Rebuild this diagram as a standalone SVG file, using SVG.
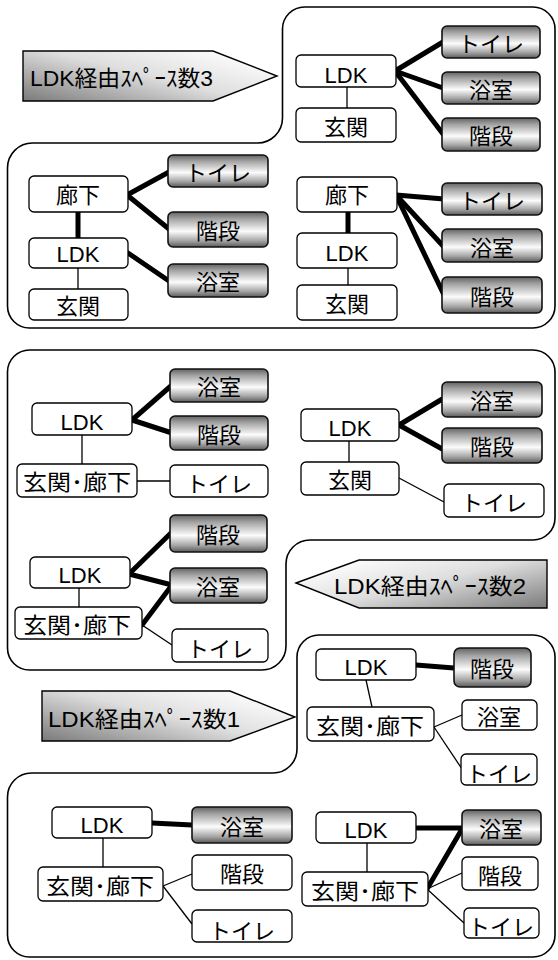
<svg xmlns="http://www.w3.org/2000/svg" width="558" height="960" viewBox="0 0 558 960">
<defs>
<linearGradient id="gbox" x1="0" y1="0" x2="0" y2="1">
<stop offset="0" stop-color="#626262"/>
<stop offset="0.2" stop-color="#a4a4a4"/>
<stop offset="0.55" stop-color="#fcfcfc"/>
<stop offset="0.82" stop-color="#a6a6a6"/>
<stop offset="1" stop-color="#5a5a5a"/>
</linearGradient>
<linearGradient id="garR" x1="0" y1="1" x2="1" y2="0.2">
<stop offset="0" stop-color="#7a7a7a"/>
<stop offset="0.55" stop-color="#dedede"/>
<stop offset="1" stop-color="#ffffff"/>
</linearGradient>
<linearGradient id="garL" x1="1" y1="1" x2="0" y2="0.2">
<stop offset="0" stop-color="#7a7a7a"/>
<stop offset="0.55" stop-color="#dedede"/>
<stop offset="1" stop-color="#ffffff"/>
</linearGradient>
<style>
.frame{fill:#fff;stroke:#000;stroke-width:1.6}
.w{fill:#fff;stroke:#000;stroke-width:1.3}
.g{fill:url(#gbox);stroke:#111;stroke-width:1.6}
.thick{stroke:#000;stroke-width:5;stroke-linecap:round;fill:none}
.thin{stroke:#000;stroke-width:1.3;fill:none}
.arrow{stroke:#000;stroke-width:1.4}
text{font-family:"Liberation Sans","Noto Sans CJK JP",sans-serif;font-size:22px;fill:#000;text-anchor:middle}
.al{font-size:22px;text-anchor:start}
</style>
</defs>
<rect width="558" height="960" fill="#fff"/>

<g id="frames">
<path class="frame" d="M305,7 H533 A22,22 0 0 1 555,29 V306 A22,22 0 0 1 533,328 H30 A22,22 0 0 1 7.5,306 V168 A25,25 0 0 1 33,143 H257 A25,25 0 0 0 282.5,118 V29 A22,22 0 0 1 305,7 Z"/>
<path class="frame" d="M30,350 H533 A22,22 0 0 1 555,372 V518 A22,22 0 0 1 533,540 H310 A24,24 0 0 0 286,564 V646 A24,24 0 0 1 262,670 H30 A22,22 0 0 1 7.5,648 V372 A22,22 0 0 1 30,350 Z"/>
<path class="frame" d="M319,635 H533 A22,22 0 0 1 555,657 V935 A22,22 0 0 1 533,957 H30 A22,22 0 0 1 7.5,935 V797 A24,24 0 0 1 31.5,773 H273 A24,24 0 0 0 297,749 V657 A22,22 0 0 1 319,635 Z"/>
</g>

<g id="arrow3">
<polygon class="arrow" fill="url(#garR)" points="23,51 213,51 277,76 213,101 23,101"/>
<text class="al" x="30" y="86" textLength="183" lengthAdjust="spacingAndGlyphs">LDK経由ｽﾍﾟｰｽ数3</text>
</g>
<g id="arrow2">
<polygon class="arrow" fill="url(#garL)" points="296,583 359,560 547,560 547,608 359,608"/>
<text class="al" x="334" y="594" textLength="192" lengthAdjust="spacingAndGlyphs">LDK経由ｽﾍﾟｰｽ数2</text>
</g>
<g id="arrow1">
<polygon class="arrow" fill="url(#garR)" points="42,691 230,691 295,717 230,741 42,741"/>
<text class="al" x="48" y="727" textLength="192" lengthAdjust="spacingAndGlyphs">LDK経由ｽﾍﾟｰｽ数1</text>
</g>

<g id="connectors">
<line class="thin" x1="347" y1="87" x2="347" y2="108"/>
<line class="thick" x1="395" y1="71" x2="443" y2="42"/>
<line class="thick" x1="395" y1="71" x2="443" y2="88"/>
<line class="thick" x1="395" y1="71" x2="443" y2="134"/>
<line class="thick" x1="78" y1="212" x2="78" y2="238"/>
<line class="thin" x1="78" y1="268" x2="78" y2="289"/>
<line class="thick" x1="127" y1="195" x2="169" y2="172"/>
<line class="thick" x1="127" y1="195" x2="169" y2="229"/>
<line class="thick" x1="128" y1="253" x2="169" y2="281"/>
<line class="thick" x1="348" y1="212" x2="348" y2="233"/>
<line class="thin" x1="348" y1="268" x2="348" y2="285"/>
<line class="thick" x1="396" y1="195" x2="444" y2="199"/>
<line class="thick" x1="396" y1="195" x2="444" y2="247"/>
<line class="thick" x1="396" y1="195" x2="444" y2="295"/>
<line class="thin" x1="82" y1="435" x2="82" y2="464"/>
<line class="thin" x1="137" y1="481" x2="170" y2="481"/>
<line class="thick" x1="132" y1="420" x2="172" y2="385"/>
<line class="thick" x1="132" y1="420" x2="172" y2="433"/>
<line class="thin" x1="349" y1="441" x2="349" y2="462"/>
<line class="thin" x1="399" y1="478" x2="444" y2="502"/>
<line class="thick" x1="399" y1="425" x2="444" y2="398"/>
<line class="thick" x1="399" y1="425" x2="444" y2="450"/>
<line class="thin" x1="79" y1="588" x2="79" y2="607"/>
<line class="thick" x1="129" y1="574" x2="172" y2="532"/>
<line class="thick" x1="129" y1="574" x2="172" y2="585"/>
<line class="thick" x1="142" y1="625" x2="172" y2="585"/>
<line class="thin" x1="142" y1="625" x2="172" y2="645"/>
<line class="thick" x1="416" y1="665" x2="454" y2="668"/>
<line class="thin" x1="366" y1="680" x2="372" y2="707"/>
<line class="thin" x1="434" y1="727" x2="462" y2="715"/>
<line class="thin" x1="434" y1="727" x2="462" y2="769"/>
<line class="thick" x1="152" y1="823" x2="192" y2="825"/>
<line class="thin" x1="103" y1="838" x2="103" y2="867"/>
<line class="thin" x1="163" y1="886" x2="192" y2="874"/>
<line class="thin" x1="163" y1="886" x2="192" y2="924"/>
<line class="thick" x1="416" y1="828" x2="462" y2="828"/>
<line class="thick" x1="427" y1="889" x2="462" y2="829"/>
<line class="thin" x1="367" y1="843" x2="367" y2="872"/>
<line class="thin" x1="427" y1="889" x2="462" y2="873"/>
<line class="thin" x1="427" y1="889" x2="464" y2="923"/>
</g>

<g id="A-LDK"><rect class="w" x="296" y="55" width="100" height="32" rx="5"/><text x="346" y="83">LDK</text></g>
<g id="A-genkan"><rect class="w" x="296" y="108" width="100" height="34" rx="5"/><text x="346" y="135">玄関</text></g>
<g id="A-toilet"><rect class="g" x="442" y="26" width="98" height="32" rx="5"/><text x="491" y="52">トイレ</text></g>
<g id="A-bath"><rect class="g" x="442" y="72" width="98" height="32" rx="5"/><text x="491" y="98">浴室</text></g>
<g id="A-stairs"><rect class="g" x="442" y="118" width="98" height="33" rx="5"/><text x="491" y="144">階段</text></g>

<g id="B-rouka"><rect class="w" x="29" y="176" width="99" height="36" rx="5"/><text x="78" y="203">廊下</text></g>
<g id="B-LDK"><rect class="w" x="29" y="238" width="99" height="30" rx="5"/><text x="78" y="262">LDK</text></g>
<g id="B-genkan"><rect class="w" x="29" y="289" width="99" height="31" rx="5"/><text x="78" y="314">玄関</text></g>
<g id="B-toilet"><rect class="g" x="168" y="155" width="100" height="32" rx="5"/><text x="218" y="181">トイレ</text></g>
<g id="B-stairs"><rect class="g" x="168" y="212" width="100" height="35" rx="5"/><text x="218" y="239">階段</text></g>
<g id="B-bath"><rect class="g" x="168" y="264" width="100" height="33" rx="5"/><text x="218" y="290">浴室</text></g>

<g id="C-rouka"><rect class="w" x="297" y="177" width="100" height="35" rx="5"/><text x="347" y="203">廊下</text></g>
<g id="C-LDK"><rect class="w" x="297" y="233" width="100" height="35" rx="5"/><text x="347" y="261">LDK</text></g>
<g id="C-genkan"><rect class="w" x="297" y="285" width="100" height="35" rx="5"/><text x="347" y="312">玄関</text></g>
<g id="C-toilet"><rect class="g" x="442" y="183" width="100" height="32" rx="5"/><text x="492" y="209">トイレ</text></g>
<g id="C-bath"><rect class="g" x="442" y="229" width="100" height="33" rx="5"/><text x="492" y="256">浴室</text></g>
<g id="C-stairs"><rect class="g" x="442" y="277" width="100" height="36" rx="5"/><text x="492" y="305">階段</text></g>

<g id="D-LDK"><rect class="w" x="32" y="403" width="100" height="32" rx="5"/><text x="82" y="430">LDK</text></g>
<g id="D-genkanrouka"><rect class="w" x="17" y="464" width="120" height="33" rx="5"/><text x="77" y="490" textLength="108" lengthAdjust="spacingAndGlyphs">玄関･廊下</text></g>
<g id="D-toilet"><rect class="w" x="170" y="465" width="98" height="32" rx="5"/><text x="219" y="492">トイレ</text></g>
<g id="D-bath"><rect class="g" x="170" y="369" width="98" height="33" rx="5"/><text x="219" y="395">浴室</text></g>
<g id="D-stairs"><rect class="g" x="170" y="416" width="98" height="34" rx="5"/><text x="219" y="443">階段</text></g>

<g id="E-LDK"><rect class="w" x="301" y="409" width="98" height="32" rx="5"/><text x="350" y="436">LDK</text></g>
<g id="E-genkan"><rect class="w" x="301" y="462" width="98" height="33" rx="5"/><text x="350" y="488">玄関</text></g>
<g id="E-bath"><rect class="g" x="442" y="382" width="100" height="35" rx="5"/><text x="492" y="409">浴室</text></g>
<g id="E-stairs"><rect class="g" x="442" y="428" width="100" height="35" rx="5"/><text x="492" y="455">階段</text></g>
<g id="E-toilet"><rect class="w" x="444" y="484" width="100" height="33" rx="5"/><text x="494" y="511">トイレ</text></g>

<g id="F-LDK"><rect class="w" x="30" y="557" width="100" height="31" rx="5"/><text x="80" y="583">LDK</text></g>
<g id="F-genkanrouka"><rect class="w" x="15" y="607" width="127" height="32" rx="5"/><text x="77" y="633" textLength="108" lengthAdjust="spacingAndGlyphs">玄関･廊下</text></g>
<g id="F-stairs"><rect class="g" x="170" y="515" width="97" height="37" rx="5"/><text x="218" y="543">階段</text></g>
<g id="F-bath"><rect class="g" x="170" y="568" width="97" height="35" rx="5"/><text x="218" y="595">浴室</text></g>
<g id="F-toilet"><rect class="w" x="172" y="629" width="96" height="33" rx="5"/><text x="220" y="657">トイレ</text></g>

<g id="G-LDK"><rect class="w" x="316" y="649" width="100" height="31" rx="5"/><text x="366" y="675">LDK</text></g>
<g id="G-stairs"><rect class="g" x="454" y="648" width="77" height="39" rx="6"/><text x="492" y="677">階段</text></g>
<g id="G-genkanrouka"><rect class="w" x="307" y="707" width="127" height="34" rx="5"/><text x="370" y="734" textLength="108" lengthAdjust="spacingAndGlyphs">玄関･廊下</text></g>
<g id="G-bath"><rect class="w" x="462" y="700" width="75" height="30" rx="5"/><text x="499" y="725">浴室</text></g>
<g id="G-toilet"><rect class="w" x="461" y="754" width="76" height="31" rx="5"/><text x="499" y="782">トイレ</text></g>

<g id="H-LDK"><rect class="w" x="52" y="807" width="100" height="31" rx="5"/><text x="102" y="833">LDK</text></g>
<g id="H-bath"><rect class="g" x="192" y="807" width="100" height="36" rx="5"/><text x="242" y="835">浴室</text></g>
<g id="H-genkanrouka"><rect class="w" x="38" y="867" width="125" height="34" rx="5"/><text x="100" y="894" textLength="108" lengthAdjust="spacingAndGlyphs">玄関･廊下</text></g>
<g id="H-stairs"><rect class="w" x="192" y="855" width="100" height="35" rx="5"/><text x="242" y="882">階段</text></g>
<g id="H-toilet"><rect class="w" x="192" y="910" width="100" height="32" rx="5"/><text x="242" y="939">トイレ</text></g>

<g id="I-LDK"><rect class="w" x="316" y="812" width="100" height="31" rx="5"/><text x="366" y="838">LDK</text></g>
<g id="I-bath"><rect class="g" x="462" y="810" width="79" height="35" rx="5"/><text x="501" y="837">浴室</text></g>
<g id="I-genkanrouka"><rect class="w" x="302" y="872" width="126" height="34" rx="5"/><text x="365" y="899" textLength="108" lengthAdjust="spacingAndGlyphs">玄関･廊下</text></g>
<g id="I-stairs"><rect class="w" x="462" y="857" width="76" height="33" rx="5"/><text x="500" y="884">階段</text></g>
<g id="I-toilet"><rect class="w" x="464" y="908" width="75" height="30" rx="5"/><text x="501" y="935">トイレ</text></g>
</svg>
